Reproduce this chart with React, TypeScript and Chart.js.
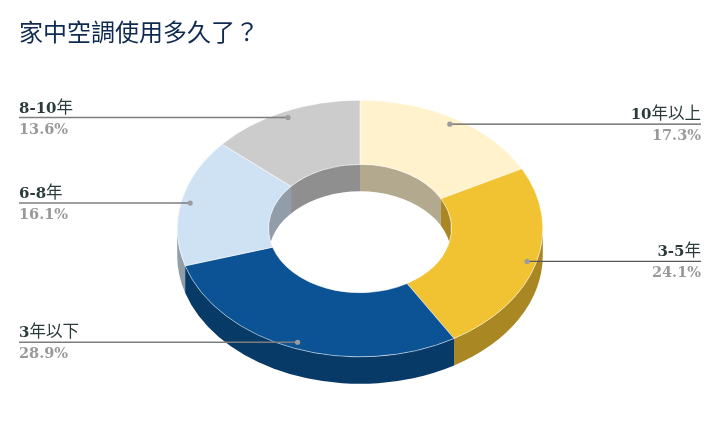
import { useEffect, useRef } from "react";
import {
    Chart,
    ArcElement,
    DoughnutController,
    Title,
    type ChartConfiguration,
    type Plugin,
} from "chart.js";

Chart.register(ArcElement, DoughnutController, Title);

const chartTitle = "家中空調使用多久了？";
const categories = ["10年以上", "3-5年", "3年以下", "6-8年", "8-10年"];
const shares = [17.3, 24.1, 28.9, 16.1, 13.6];
const sliceColors = ["#fff2cc", "#f1c232", "#0b5394", "#cfe2f3", "#cccccc"];
const wallColors = ["#b3a98f", "#a98823", "#083a68", "#919eaa", "#8f8f8f"];
// which side of the chart each label sits on
const labelSides = ["right", "right", "left", "left", "left"];

const CENTER_Y = 228.5; // where the ellipse centre ends up on the page
const TILT = 0.702; // vertical squash of the ring
const DEPTH = 27 / TILT; // ring thickness, before squashing
const DOT_RADIUS = 0.95; // leader dot position, share of the outer radius
const LEFT_X = 19;
const RIGHT_X = 701;

const LATIN_FONT = 'bold 15px "DejaVu Serif", serif';
const CJK_FONT = '16.5px "Noto Sans CJK TC", sans-serif';
const SHARE_FONT = 'bold 14.5px "DejaVu Serif", serif';

// digits are bold serif, the CJK part is regular, so draw it in runs
const drawName = (
    ctx: CanvasRenderingContext2D,
    text: string,
    x: number,
    y: number,
    side: string,
) => {
    const runs = text.match(/[0-9-]+|[^0-9-]+/g) ?? [];
    const fontOf = (run: string) => (/[0-9-]/.test(run) ? LATIN_FONT : CJK_FONT);
    let total = 0;
    runs.forEach((run) => {
        ctx.font = fontOf(run);
        total += ctx.measureText(run).width;
    });
    let cursor = side === "right" ? x - total : x;
    runs.forEach((run) => {
        ctx.font = fontOf(run);
        ctx.fillText(run, cursor, y);
        cursor += ctx.measureText(run).width;
    });
};

const ringPlugin: Plugin<"doughnut"> = {
    id: "ring3d",
    beforeDatasetsDraw: (chart) => {
        const { ctx } = chart;
        const arcs = chart.getDatasetMeta(0).data as unknown as ArcElement[];
        const first = arcs[0].getProps(["x", "y", "outerRadius", "innerRadius"]);
        const { x: cx, y: cy, outerRadius: R, innerRadius: r } = first;

        ctx.save();
        ctx.translate(cx, CENTER_Y);
        ctx.scale(1, TILT);
        ctx.translate(-cx, -cy);

        // outer wall, only the front half shows
        arcs.forEach((arc, i) => {
            const { startAngle, endAngle } = arc.getProps(["startAngle", "endAngle"]);
            const a = Math.max(startAngle, 0);
            const b = Math.min(endAngle, Math.PI);
            if (b <= a) return;
            ctx.beginPath();
            ctx.arc(cx, cy, R, a, b);
            ctx.arc(cx, cy + DEPTH, R, b, a, true);
            ctx.closePath();
            ctx.fillStyle = wallColors[i];
            ctx.fill();
        });

        // inner wall: what is inside the hole and outside the lowered hole
        ctx.save();
        ctx.beginPath();
        ctx.arc(cx, cy, r, 0, Math.PI * 2);
        ctx.clip();
        ctx.beginPath();
        ctx.rect(cx - R, cy - R, R * 2, R * 2 + DEPTH);
        ctx.arc(cx, cy + DEPTH, r, 0, Math.PI * 2);
        ctx.clip("evenodd");
        arcs.forEach((arc, i) => {
            const { startAngle, endAngle } = arc.getProps(["startAngle", "endAngle"]);
            // back half of the hole, in the angle range the arcs use
            [
                [-Math.PI / 2, 0],
                [Math.PI, (Math.PI * 3) / 2],
            ].forEach(([lo, hi]) => {
                const a = Math.max(startAngle, lo);
                const b = Math.min(endAngle, hi);
                if (b <= a) return;
                const x0 = cx + r * Math.cos(a);
                const x1 = cx + r * Math.cos(b);
                ctx.fillStyle = wallColors[i];
                ctx.fillRect(Math.min(x0, x1), cy - r, Math.abs(x1 - x0), r * 2 + DEPTH);
            });
        });
        ctx.restore();
    },
    afterDatasetsDraw: (chart) => {
        chart.ctx.restore();
    },
    afterDraw: (chart) => {
        const { ctx } = chart;
        const arcs = chart.getDatasetMeta(0).data as unknown as ArcElement[];
        arcs.forEach((arc, i) => {
            const { x, startAngle, endAngle, outerRadius } = arc.getProps([
                "x",
                "startAngle",
                "endAngle",
                "outerRadius",
            ]);
            const mid = (startAngle + endAngle) / 2;
            const dotX = x + Math.cos(mid) * outerRadius * DOT_RADIUS;
            const dotY = CENTER_Y + Math.sin(mid) * outerRadius * DOT_RADIUS * TILT;
            const side = labelSides[i];
            const edge = side === "right" ? RIGHT_X : LEFT_X;

            ctx.save();
            ctx.strokeStyle = side === "right" ? "#5a5a5a" : "#7d7d7d";
            ctx.lineWidth = side === "right" ? 1.2 : 1.4;
            ctx.beginPath();
            ctx.moveTo(dotX, dotY);
            ctx.lineTo(edge, dotY);
            ctx.stroke();
            ctx.fillStyle = "#9c9c9c";
            ctx.beginPath();
            ctx.arc(dotX, dotY, 2.6, 0, Math.PI * 2);
            ctx.fill();

            ctx.textBaseline = "alphabetic";
            ctx.textAlign = "left";
            ctx.fillStyle = "#2b3b3b";
            drawName(ctx, categories[i], edge, dotY - 5, side);
            ctx.fillStyle = "#999999";
            ctx.font = SHARE_FONT;
            ctx.textAlign = side === "right" ? "right" : "left";
            ctx.fillText(`${shares[i]}%`, edge, dotY + 16);
            ctx.restore();
        });
    },
};

const App = () => {
    const chartRef = useRef<HTMLCanvasElement>(null);

    useEffect(() => {
        if (!chartRef.current) return;
        document.body.style.margin = "0";

        const config: ChartConfiguration<"doughnut"> = {
            type: "doughnut",
            data: {
                labels: categories,
                datasets: [
                    {
                        data: shares,
                        backgroundColor: sliceColors,
                        borderColor: "#ffffff",
                        borderWidth: 0.6,
                    },
                ],
            },
            options: {
                responsive: false,
                animation: false,
                cutout: "50%",
                layout: {
                    padding: { top: 17, bottom: 32, left: LEFT_X, right: LEFT_X },
                },
                plugins: {
                    legend: { display: false },
                    tooltip: { enabled: false },
                    title: {
                        display: true,
                        text: chartTitle,
                        align: "start",
                        color: "#0e2a50",
                        padding: 0,
                        font: {
                            family: '"Noto Sans CJK TC", sans-serif',
                            size: 24,
                            weight: "normal",
                            lineHeight: 1.2,
                        },
                    },
                },
            },
            plugins: [ringPlugin],
        };

        const chart = new Chart(chartRef.current, config);
        return () => {
            chart.destroy();
        };
    }, []);

    return (
        <div style={{ width: 720, height: 444, background: "#ffffff" }}>
            <canvas ref={chartRef} width={720} height={444} style={{ display: "block" }} />
        </div>
    );
};

export default App;
